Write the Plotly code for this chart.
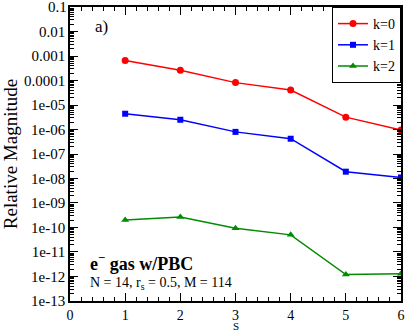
import plotly.graph_objects as go

s = [1, 2, 3, 4, 5, 6]
k0 = [6.6e-4, 2.6e-4, 8.2e-5, 4.1e-5, 3.2e-6, 9.5e-7]
k1 = [4.4e-6, 2.5e-6, 8.0e-7, 4.2e-7, 1.9e-8, 1.1e-8]
k2 = [2.0e-10, 2.7e-10, 9.3e-11, 5.0e-11, 1.2e-12, 1.3e-12]

ytick_vals = [1e-1, 1e-2, 1e-3, 1e-4, 1e-5, 1e-6, 1e-7, 1e-8, 1e-9, 1e-10, 1e-11, 1e-12, 1e-13]
# top label "0.1" is drawn as an annotation (plotly hides it at the div edge)
ytick_text = ["", "0.01", "0.001", "0.0001", "1e-05", "1e-06", "1e-07", "1e-08",
              "1e-09", "1e-10", "1e-11", "1e-12", "1e-13"]

font = "Liberation Serif"

fig = go.Figure()
fig.add_trace(go.Scatter(x=s, y=k0, mode="lines+markers", name="k=0",
                         line=dict(color="#ff0000", width=1.5),
                         marker=dict(symbol="circle", size=7, color="#ff0000")))
fig.add_trace(go.Scatter(x=s, y=k1, mode="lines+markers", name="k=1",
                         line=dict(color="#0000ff", width=1.5),
                         marker=dict(symbol="square", size=6, color="#0000ff")))
fig.add_trace(go.Scatter(x=s, y=k2, mode="lines+markers", name="k=2",
                         line=dict(color="#008b00", width=1.5),
                         marker=dict(symbol="triangle-up", size=7, color="#008b00")))

fig.update_layout(
    width=407, height=333,
    margin=dict(l=70, r=6, t=7, b=32),
    paper_bgcolor="white", plot_bgcolor="white",
    font=dict(family=font, size=13, color="black"),
    legend=dict(x=1, y=1, xanchor="right", yanchor="top",
                bordercolor="black", borderwidth=1, bgcolor="white",
                font=dict(family=font, size=14), tracegroupgap=0,
                itemwidth=30),
    showlegend=True,
)

fig.update_xaxes(
    range=[0, 6], dtick=1, tick0=0, automargin=False,
    showline=True, linecolor="black", linewidth=1.5, mirror="ticks",
    ticks="inside", ticklen=8, tickcolor="black",
    showgrid=False, zeroline=False,
    tickfont=dict(size=14),
    minor=dict(dtick=0.2, ticks="inside", ticklen=4, tickcolor="black", showgrid=False),
)
fig.update_yaxes(
    type="log", range=[-13.001, -0.999], automargin=False,
    tickmode="array", tickvals=ytick_vals, ticktext=ytick_text,
    showline=True, linecolor="black", linewidth=1.5, mirror="ticks",
    ticks="inside", ticklen=8, tickcolor="black",
    showgrid=False, zeroline=False,
    tickfont=dict(size=15),
    minor=dict(dtick="D1", ticks="inside", ticklen=4, tickcolor="black", showgrid=False),
    title=dict(text="Relative Magnitude", font=dict(size=19), standoff=2),
)

fig.add_annotation(x=0, y=1, xref="paper", yref="paper", text="0.1",
                   showarrow=False, xanchor="right", yanchor="middle", xshift=-1,
                   font=dict(family=font, size=15))
fig.add_annotation(x=0.5, y=-0.1088, xref="paper", yref="paper", text="S",
                   showarrow=False, xanchor="center", yanchor="bottom", borderpad=0,
                   font=dict(family=font, size=11))
fig.add_annotation(x=0.07, y=0.935, xref="paper", yref="paper", text="a)",
                   showarrow=False, xanchor="left", yanchor="middle",
                   font=dict(family=font, size=17))
fig.add_annotation(x=0.055, y=0.13, xref="paper", yref="paper",
                   text="<b>e<sup>\u2212</sup> gas w/PBC</b>",
                   showarrow=False, xanchor="left", yanchor="middle",
                   font=dict(family=font, size=18))
fig.add_annotation(x=0.055, y=0.058, xref="paper", yref="paper",
                   text="N = 14, r<sub>s</sub> = 0.5, M = 114",
                   showarrow=False, xanchor="left", yanchor="middle",
                   font=dict(family=font, size=14))

fig.write_html("out.html", config={"displayModeBar": False},
               post_script="document.body.style.margin='0';")
